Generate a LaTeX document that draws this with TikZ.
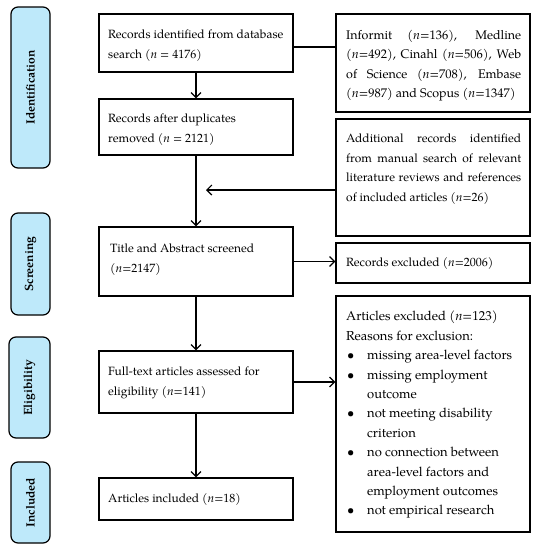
\documentclass[tikz,border=0pt]{standalone}
\usepackage{fontspec}
\setmainfont{texgyrepagella}[Extension=.otf,UprightFont=*-regular,BoldFont=*-bold,ItalicFont=*-italic,BoldItalicFont=*-bolditalic]
\usetikzlibrary{arrows.meta}
\definecolor{phase}{RGB}{190,233,250}
\begin{document}
\begin{tikzpicture}[x=1pt,y=-1pt]
\tikzset{
 box/.style={draw=black, line width=1.2pt, fill=white, inner sep=0pt},
 phasebox/.style={draw=black, line width=1.2pt, fill=phase, rounded corners=7pt, inner sep=0pt},
 phasetext/.style={font=\fontsize{12}{14}\selectfont\bfseries, rotate=90, inner sep=0pt},
 txt/.style={anchor=north west, inner sep=0pt, align=left, font=\fontsize{12}{19.4}\selectfont},
 bigtxt/.style={txt, font=\fontsize{13}{19.4}\selectfont},
 jtxt/.style={txt, text width=175pt, align=justify},
 flow/.style={line width=1.2pt, -{Straight Barb[length=5pt,width=10pt,line width=1.2pt]}},
 link/.style={line width=1.2pt}
}
\useasboundingbox (0,0) rectangle (542,550);
% phase labels
\node[phasebox, minimum width=39pt, minimum height=161pt] (p1) at (30.5,87.5) {};
\node[phasetext] (pt1) at (p1.center) {Identification};
\node[phasebox, minimum width=39pt, minimum height=102pt] (p2) at (30.5,264) {};
\node[phasetext] (pt2) at (p2.center) {Screening};
\node[phasebox, minimum width=41pt, minimum height=101pt] (p3) at (29.5,387.5) {};
\node[phasetext] (pt3) at (p3.center) {Eligibility};
\node[phasebox, minimum width=39pt, minimum height=81pt] (p4) at (30.5,502.5) {};
\node[phasetext] (pt4) at (p4.center) {Included};
% main boxes
\node[box, minimum width=194pt, minimum height=58pt] (b1) at (196,43) {};
\node[box, minimum width=194pt, minimum height=56pt] (b2) at (196,127) {};
\node[box, minimum width=194pt, minimum height=69pt] (b3) at (196,261.5) {};
\node[box, minimum width=194pt, minimum height=62pt] (b4) at (196,382) {};
\node[box, minimum width=194pt, minimum height=42pt] (b5) at (196,499) {};
% right boxes
\node[box, minimum width=194pt, minimum height=98pt] (r1) at (433,63) {};
\node[box, minimum width=194pt, minimum height=117pt] (r2) at (433,177.5) {};
\node[box, minimum width=194pt, minimum height=40pt] (r3) at (433,263) {};
\node[box, minimum width=194pt, minimum height=236pt] (r4) at (433,414) {};
% texts
\node[txt] (t1) at (108,30) {Records identified from database\\search (\textit{n} = 4176)};
\node[txt] (t2) at (108,114) {Records after duplicates\\removed \textit{(n} = 2121\textit{)}};
\node[txt] (t3) at (110,244) {Title and Abstract screened\\\textit{(n}=2147\textit{)}};
\node[txt] (t4) at (108,367) {Full-text articles assessed for\\eligibility \textit{(n}=141\textit{)}};
\node[txt] (t5) at (108,493) {Articles included \textit{(n}=18\textit{)}};
\node[jtxt, font=\fontsize{12.5}{19.4}\selectfont] (s1) at (346,30) {Informit \textit{(n}=136\textit{)}, Medline\linebreak \textit{(n}=492\textit{)}, Cinahl \textit{(n}=506), Web\linebreak of Science \textit{(n}=708\textit{)}, Embase\linebreak \textit{(n}=987\textit{)} and Scopus \textit{(n}=1347\textit{)}};
\node[jtxt] (s2) at (346,134) {Additional records identified\linebreak from manual search of relevant\linebreak literature reviews and references\linebreak of included articles \textit{(n}=26\textit{)}};
\node[txt] (s3) at (346,257) {Records excluded \textit{(n}=2006\textit{)}};
\node[bigtxt] (s4) at (346,311) {Articles excluded \textit{(n}=123\textit{)}\\
Reasons for exclusion:\\
\makebox[21pt][l]{\hspace{1pt}\textbullet}missing area-level factors\\
\makebox[21pt][l]{\hspace{1pt}\textbullet}missing employment\\
\hspace*{21pt}outcome\\
\makebox[21pt][l]{\hspace{1pt}\textbullet}not meeting disability\\
\hspace*{21pt}criterion\\
\makebox[21pt][l]{\hspace{1pt}\textbullet}no connection between\\
\hspace*{21pt}area-level factors and\\
\hspace*{21pt}employment outcomes\\
\makebox[21pt][l]{\hspace{1pt}\textbullet}not empirical research};
% connectors
\draw[flow] (b1) -- (b2);
\draw[link] ([yshift=-4pt]b1.east) -- ([yshift=-4pt]b1.east -| r1.west);
\draw[flow] (b2) -- (b3);
\coordinate (j) at (206,190);
\draw[flow] (r2.west |- j) -- (j);
\draw[flow] (b3.east) -- (b3.east -| r3.west);
\draw[flow] (b3) -- (b4);
\draw[flow] (b4.east) -- (b4.east -| r4.west);
\draw[flow] (b4) -- (b5);
\end{tikzpicture}
\end{document}
